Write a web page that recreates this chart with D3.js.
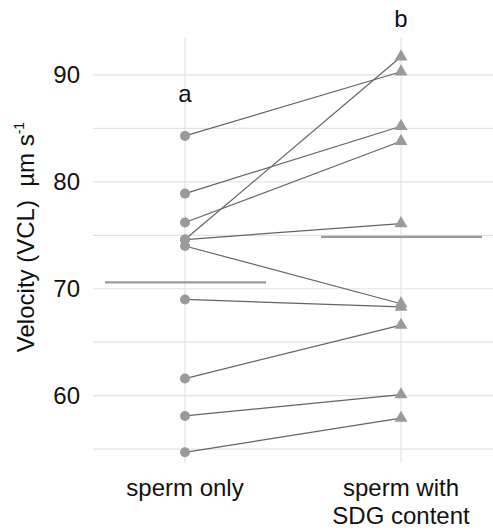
<!DOCTYPE html>
<html>
<head>
<meta charset="utf-8">
<script src="https://cdn.jsdelivr.net/npm/d3@7"></script>
<style>
  html, body { margin: 0; padding: 0; background: #fff; }
  svg text { font-family: "Liberation Sans", Arial, Helvetica, sans-serif; fill: #111; }
</style>
</head>
<body>
<svg id="chart" width="493" height="530"></svg>
<script>
// Paired VCL measurements, one entry per male
const groups = ["sperm only", "sperm with SDG content"];
const spermOnly = [84.3, 78.9, 76.2, 74.6, 74.6, 74.0, 69.0, 61.6, 58.1, 54.7];
const spermSDG  = [90.3, 85.2, 83.8, 91.7, 76.1, 68.6, 68.3, 66.6, 60.1, 57.9];
const groupLetters = ["a", "b"];
const yTicks = [60, 70, 80, 90];
const yMinorTicks = [55, 65, 75, 85];

const svg = d3.select("#chart");
const W = 493;
const FS = 24;

const x = d3.scalePoint().domain(groups).range([185, 401]);
const y = d3.scaleLinear().domain([53.7, 93.55]).range([463, 37]);

const gridColor = "#e3e3e3";
const pointColor = "#9a9a9e";
const lineColor = "#646468";

// Horizontal grid
const grid = svg.append("g");
grid.selectAll("line.h")
  .data(yTicks.concat(yMinorTicks))
  .join("line")
  .attr("x1", 93).attr("x2", W)
  .attr("y1", d => y(d)).attr("y2", d => y(d))
  .attr("stroke", gridColor).attr("stroke-width", 1.2);

// Vertical grid at each group
grid.selectAll("line.v")
  .data(groups)
  .join("line")
  .attr("x1", d => x(d)).attr("x2", d => x(d))
  .attr("y1", y.range()[1]).attr("y2", y.range()[0])
  .attr("stroke", gridColor).attr("stroke-width", 1.2);

// Y axis labels
const yAxis = d3.axisLeft(y).tickValues(yTicks).tickSize(0).tickPadding(0);
const gy = svg.append("g").attr("transform", "translate(80,0)").call(yAxis);
gy.select(".domain").remove();
gy.selectAll("text")
  .attr("font-size", FS)
  .attr("fill", "#111")
  .attr("font-family", "Liberation Sans, Arial, sans-serif");

// Y axis title
const title = svg.append("text")
  .attr("transform", "translate(34,237) rotate(-90)")
  .attr("text-anchor", "middle")
  .attr("font-size", FS);
title.append("tspan").text("Velocity (VCL)\u00a0\u00a0µm s");
title.append("tspan").attr("font-size", 14).attr("dy", -10).text("-1");

// Group means
const means = [d3.mean(spermOnly), d3.mean(spermSDG)];
svg.append("g").selectAll("line")
  .data(groups)
  .join("line")
  .attr("x1", d => x(d) - 80).attr("x2", d => x(d) + 81)
  .attr("y1", (d, i) => y(means[i])).attr("y2", (d, i) => y(means[i]))
  .attr("stroke", "#9a9a9a").attr("stroke-width", 2.2);

// Paired lines
svg.append("g").selectAll("line")
  .data(spermOnly.map((v, i) => [v, spermSDG[i]]))
  .join("line")
  .attr("x1", x(groups[0])).attr("x2", x(groups[1]))
  .attr("y1", d => y(d[0])).attr("y2", d => y(d[1]))
  .attr("stroke", lineColor).attr("stroke-width", 1.2);

// Points: circles for sperm only
svg.append("g").selectAll("circle")
  .data(spermOnly)
  .join("circle")
  .attr("cx", x(groups[0]))
  .attr("cy", d => y(d))
  .attr("r", 5)
  .attr("fill", pointColor);

// Triangles for sperm with SDG content
const tri = d3.symbol().type(d3.symbolTriangle).size(72);
svg.append("g").selectAll("path")
  .data(spermSDG)
  .join("path")
  .attr("d", tri)
  .attr("transform", d => `translate(${x(groups[1])},${y(d)})`)
  .attr("fill", pointColor);

// Significance letters
svg.append("g").selectAll("text")
  .data(groups)
  .join("text")
  .attr("x", d => x(d))
  .attr("y", (d, i) => i === 0 ? 102 : 27)
  .attr("text-anchor", "middle")
  .attr("font-size", FS)
  .text((d, i) => groupLetters[i]);

// Category labels
const xl = svg.append("g");
xl.append("text").attr("x", x(groups[0])).attr("y", 496)
  .attr("text-anchor", "middle").attr("font-size", FS).text("sperm only");
const t2 = xl.append("text").attr("x", x(groups[1])).attr("y", 496)
  .attr("text-anchor", "middle").attr("font-size", FS);
t2.append("tspan").attr("x", x(groups[1])).text("sperm with");
t2.append("tspan").attr("x", x(groups[1])).attr("dy", 28).text("SDG content");
</script>
</body>
</html>
